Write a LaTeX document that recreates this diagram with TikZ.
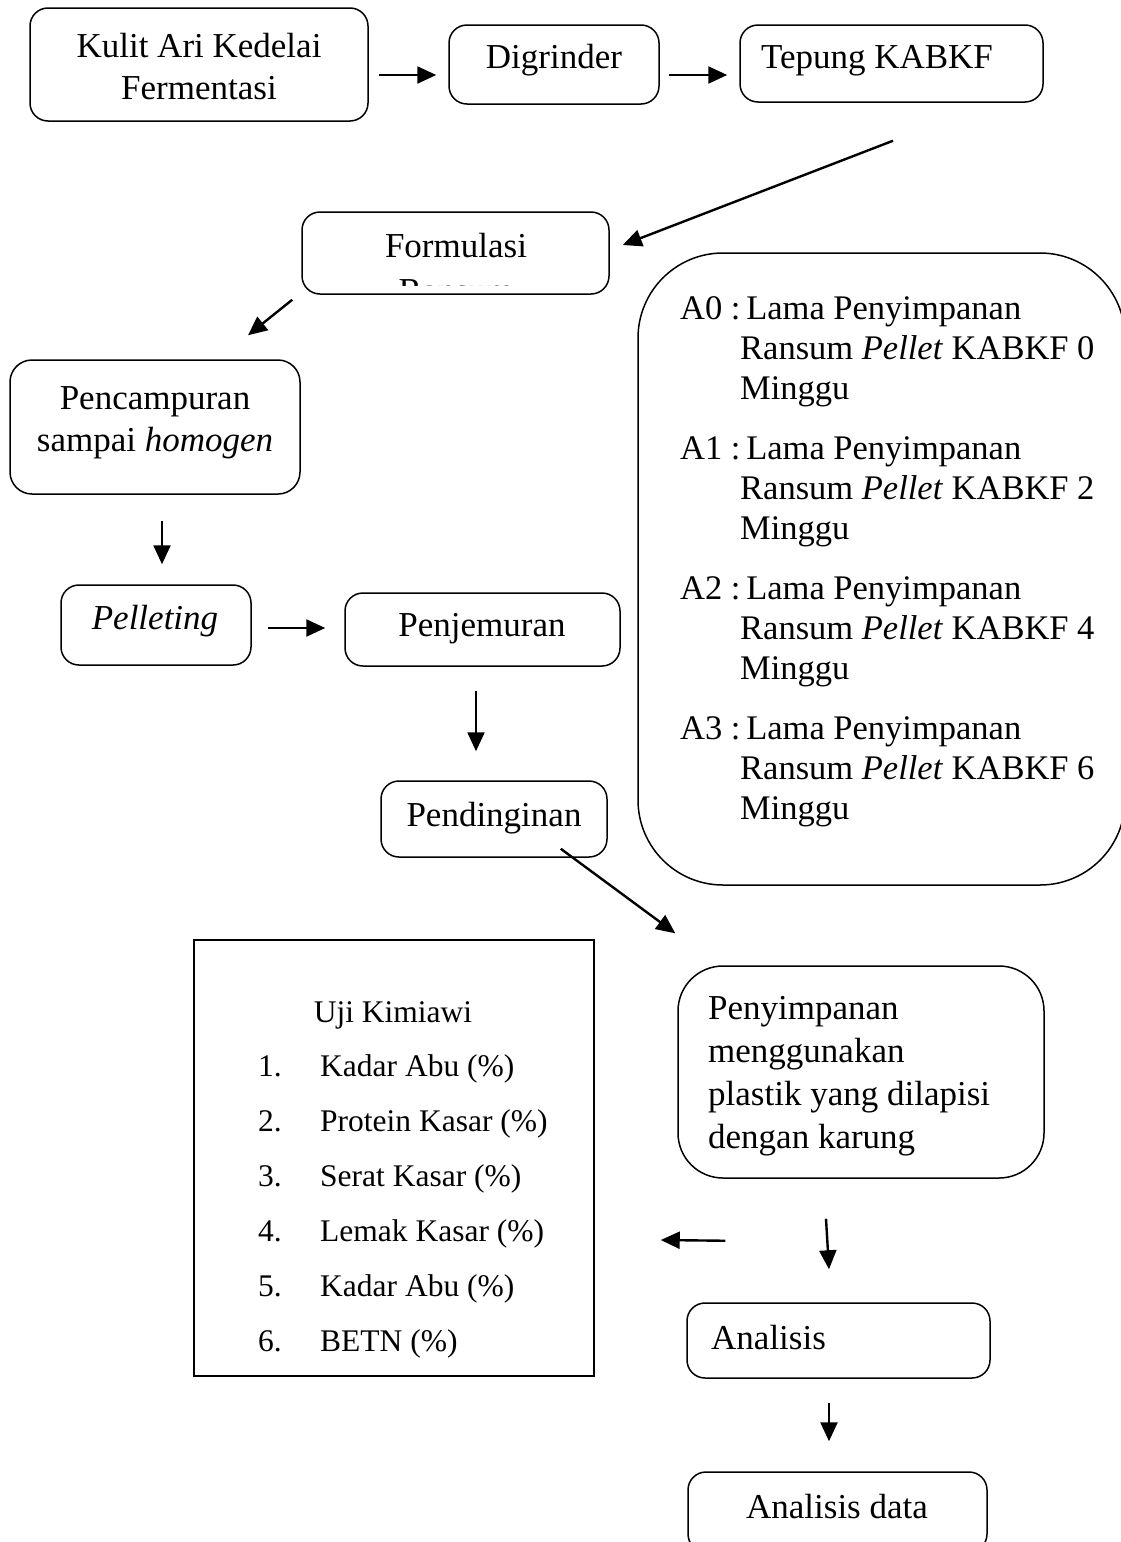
\documentclass[tikz,border=0pt]{standalone}
\usepackage{fontspec}
\setmainfont{Liberation Serif}
\usetikzlibrary{arrows.meta}
\newcommand\mfont{\fontsize{35}{42}\selectfont}
\newcommand\afont{\fontsize{34.5}{40}\selectfont}
\newcommand\ufont{\fontsize{31.5}{55}\selectfont}
\begin{document}
\begin{tikzpicture}[x=1pt,y=-1pt,
  bx/.style={draw, line width=1.5pt, rounded corners=18pt, inner sep=0pt},
  sq/.style={draw, line width=1.5pt, inner sep=0pt},
  arr/.style={line width=2.4pt, -{Triangle[length=19pt,width=17pt]}},
  tx/.style={inner sep=0pt, font=\mfont},
]
\useasboundingbox (0,0) rectangle (1121,1542);

% boxes
\node[bx, minimum width=338pt, minimum height=113pt] (kulit) at (199,64.5) {};
\node[bx, minimum width=210pt, minimum height=79pt] (dig) at (554,64.5) {};
\node[bx, minimum width=303pt, minimum height=77pt] (tep) at (891.5,63.5) {};
\node[bx, minimum width=307pt, minimum height=82pt] (form) at (455.5,253) {};
\node[bx, minimum width=290pt, minimum height=134pt, rounded corners=22pt] (pen) at (155,427) {};
\node[bx, minimum width=190pt, minimum height=80pt] (pel) at (156,625) {};
\node[bx, minimum width=275pt, minimum height=73pt] (jem) at (482.5,629.5) {};
\node[bx, minimum width=226pt, minimum height=76pt] (ding) at (494,819) {};
\node[bx, minimum width=487pt, minimum height=632pt, rounded corners=85pt] (big) at (881.5,569) {};
\node[bx, minimum width=366pt, minimum height=212pt, rounded corners=45pt] (simp) at (861,1072) {};
\node[sq, minimum width=400pt, minimum height=436pt] (uji) at (394,1158) {};
\node[bx, minimum width=303pt, minimum height=75pt] (ana) at (838.5,1340.5) {};
\node[bx, minimum width=299pt, minimum height=80pt] (data) at (837.5,1512) {};

% texts
\node[tx, align=center] at (199,67) {Kulit Ari Kedelai\\Fermentasi};
\node[tx] at (554,60) {Digrinder};
\node[tx] at (877,61) {Tepung KABKF};
\node[tx] at (456,246) {Formulasi};
\begin{scope}
  \clip (304,214) rectangle (607,285);
  \node[tx] at (456,291) {Ransum};
\end{scope}
\node[tx, align=center] at (155,422.5) {Pencampuran\\sampai \textit{homogen}};
\node[tx] at (155,621) {\textit{Pelleting}};
\node[tx] at (482,629) {Penjemuran};
\node[tx] at (494,818) {Pendinginan};
\node[tx, font=\afont, anchor=north west, align=left] (alist) at (680,296) {%
A0 :\,Lama Penyimpanan\\
\hspace*{60pt}Ransum \textit{Pellet} KABKF 0\\
\hspace*{60pt}Minggu\\[20pt]
A1 :\,Lama Penyimpanan\\
\hspace*{60pt}Ransum \textit{Pellet} KABKF 2\\
\hspace*{60pt}Minggu\\[20pt]
A2 :\,Lama Penyimpanan\\
\hspace*{60pt}Ransum \textit{Pellet} KABKF 4\\
\hspace*{60pt}Minggu\\[20pt]
A3 :\,Lama Penyimpanan\\
\hspace*{60pt}Ransum \textit{Pellet} KABKF 6\\
\hspace*{60pt}Minggu};
\node[tx, font=\fontsize{35}{43}\selectfont, anchor=north west, align=left] at (708,996) {%
Penyimpanan\\menggunakan\\plastik yang dilapisi\\dengan karung};
\node[tx, font=\ufont] at (393,1015) {Uji Kimiawi};
\node[tx, font=\ufont, anchor=north west, align=left] at (258,1054) {%
\makebox[62pt][l]{1.}Kadar Abu (\%)\\
\makebox[62pt][l]{2.}Protein Kasar (\%)\\
\makebox[62pt][l]{3.}Serat Kasar (\%)\\
\makebox[62pt][l]{4.}Lemak Kasar (\%)\\
\makebox[62pt][l]{5.}Kadar Abu (\%)\\
\makebox[62pt][l]{6.}BETN (\%)};
\node[tx, anchor=west] at (711,1338) {Analisis};
\node[tx] at (837,1507) {Analisis data};

% arrows
\draw[arr] ([shift={(10,10.5)}]kulit.east) -- ([shift={(-12,10.5)}]dig.west);
\draw[arr] ([shift={(9,10.5)}]dig.east) -- ([shift={(-12,11.5)}]tep.west);
\draw[arr] ([shift={(1.5,38)}]tep.south) -- ([shift={(13,-8)}]form.east);
\draw[arr] ([shift={(-9,5)}]form.south west) -- ([shift={(93,-24)}]pen.north);
\draw[arr] ([shift={(7,26)}]pen.south) -- ([shift={(6,-20)}]pel.north);
\draw[arr] ([shift={(16,3)}]pel.east) -- ([shift={(-19,-1.5)}]jem.west);
\draw[arr] ([shift={(-6.5,24)}]jem.south) -- ([shift={(-18,-29)}]ding.north);
\draw[arr] ([shift={(-47,-9)}]ding.south east) -- ([shift={(-2,-32)}]simp.north west);
\draw[arr] ([shift={(-35,40)}]simp.south) -- ([shift={(-9.5,-33)}]ana.north);
\draw[arr] ([shift={(48,62)}]simp.south west) -- ([shift={(66,82)}]uji.east);
\draw[arr] ([shift={(-9.5,24)}]ana.south) -- ([shift={(-8.5,-30)}]data.north);
\end{tikzpicture}
\end{document}
